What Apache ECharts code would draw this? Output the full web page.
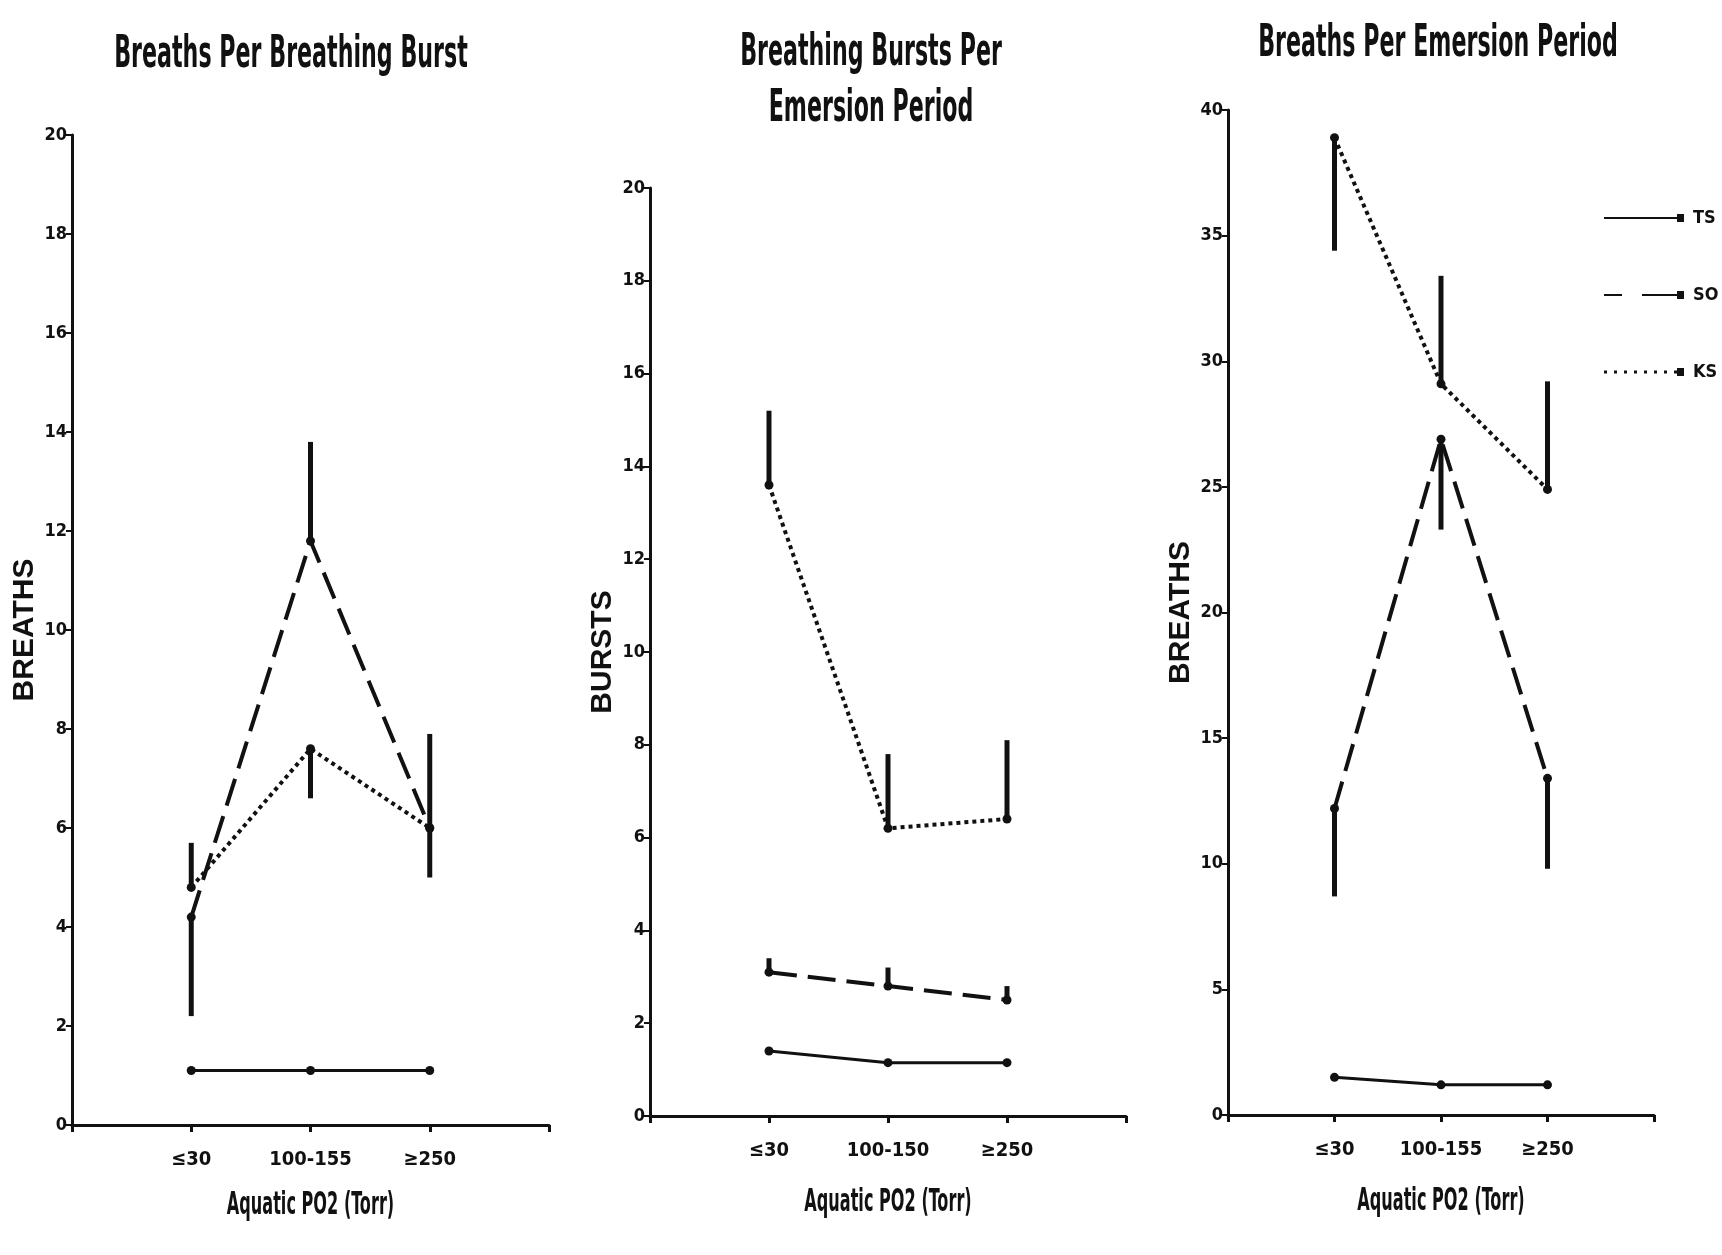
<!DOCTYPE html>
<html>
<head>
<meta charset="utf-8">
<script src="https://cdn.jsdelivr.net/npm/echarts@6/dist/echarts.min.js"></script>
<style>
html,body{margin:0;padding:0;background:#fff;}
#chart{width:1722px;height:1255px;}
</style>
</head>
<body>
<div id="chart"></div>
<script>
// ---- data ----
const CATS_1 = ['≤30', '100-155', '≥250'];
const CATS_2 = ['≤30', '100-150', '≥250'];
const CATS_3 = ['≤30', '100-155', '≥250'];
const SPECIES = ['TS', 'SO', 'KS'];
const TITLES = ['Breaths Per Breathing Burst', 'Breathing Bursts Per', 'Emersion Period', 'Breaths Per Emersion Period'];
const X_NAME = 'Aquatic PO2 (Torr)';
const Y_NAMES = ['BREATHS', 'BURSTS', 'BREATHS'];

// Panel 1: Breaths Per Breathing Burst
const P1_TS = [1.1, 1.1, 1.1];
const P1_SO = [4.2, 11.8, 6.0];
const P1_SO_ERR = [2.2, 13.8, 7.9];
const P1_KS = [4.8, 7.6, 6.0];
const P1_KS_ERR = [5.7, 6.6, 5.0];

// Panel 2: Breathing Bursts Per Emersion Period
const P2_TS = [1.4, 1.15, 1.15];
const P2_SO = [3.1, 2.8, 2.5];
const P2_SO_ERR = [3.4, 3.2, 2.8];
const P2_KS = [13.6, 6.2, 6.4];
const P2_KS_ERR = [15.2, 7.8, 8.1];

// Panel 3: Breaths Per Emersion Period
const P3_TS = [1.5, 1.2, 1.2];
const P3_SO = [12.2, 26.9, 13.4];
const P3_SO_ERR = [8.7, 23.3, 9.8];
const P3_KS = [38.9, 29.1, 24.9];
const P3_KS_ERR = [34.4, 33.4, 29.2];

// ---- styling ----
const INK = '#111';
const NARROW = '"Liberation Sans Narrow", "DejaVu Sans Condensed", "Noto Sans", sans-serif';
const WIDE = '"Liberation Sans", "DejaVu Sans", sans-serif';
const STYLE = {
  TS: {type: 'solid', width: 3},
  SO: {type: [28, 11], width: 4},
  KS: {type: [4, 4], width: 4}
};
const GRIDS = [
  {left: 72, top: 135, width: 477, height: 990},
  {left: 650, top: 188, width: 476, height: 928},
  {left: 1228, top: 110, width: 426, height: 1005}
];

function xAxisFor(gi, cats) {
  return {
    type: 'category', gridIndex: gi, data: [''].concat(cats, ['']), boundaryGap: false,
    axisLine: {lineStyle: {color: INK, width: 3}},
    axisTick: {show: true, length: 7, inside: false, lineStyle: {color: INK, width: 3}},
    axisLabel: {interval: 0, color: INK, fontFamily: NARROW, fontWeight: 'bold', fontSize: 20, margin: 25}
  };
}
function yAxisFor(gi, max, interval, name, gap) {
  return {
    type: 'value', gridIndex: gi, min: 0, max: max, interval: interval,
    axisLine: {show: true, lineStyle: {color: INK, width: 3}},
    axisTick: {show: true, length: 6, lineStyle: {color: INK, width: 2}},
    splitLine: {show: false},
    axisLabel: {color: INK, fontFamily: NARROW, fontWeight: 'bold', fontSize: 18, margin: 5},
    name: name, nameLocation: 'middle', nameGap: gap, nameRotate: 90,
    nameTextStyle: {color: INK, fontFamily: WIDE, fontWeight: 'bold', fontSize: 30}
  };
}
function lineSeries(gi, name, vals) {
  return {
    type: 'line', name: name, xAxisIndex: gi, yAxisIndex: gi,
    data: [null].concat(vals, [null]),
    connectNulls: false,
    symbol: 'circle', symbolSize: 9, showSymbol: true,
    color: INK,
    itemStyle: {color: INK},
    lineStyle: {color: INK, width: STYLE[name].width, type: STYLE[name].type},
    z: 3
  };
}
function errSeries(gi, vals, errs) {
  const data = [];
  vals.forEach((v, i) => { if (errs[i] != null) data.push([i + 1, v, errs[i]]); });
  return {
    type: 'custom', xAxisIndex: gi, yAxisIndex: gi, data: data, z: 4,
    renderItem: function (params, api) {
      const a = api.coord([api.value(0), api.value(1)]);
      const b = api.coord([api.value(0), api.value(2)]);
      return {type: 'line', shape: {x1: a[0], y1: a[1], x2: b[0], y2: b[1]},
              style: {stroke: INK, lineWidth: 5}};
    }
  };
}
// tall narrow lettering, as in the original typeset figure
function narrowText(text, x, y, size) {
  return {
    type: 'text', x: x, y: y, scaleX: 0.56, scaleY: 1, silent: true,
    style: {
      text: text, x: 0, y: 0, fill: INK,
      fontFamily: '"DejaVu Sans Condensed", "DejaVu Sans", sans-serif', fontWeight: 'bold', fontSize: size,
      align: 'center', verticalAlign: 'middle', textAlign: 'center', textVerticalAlign: 'middle'
    }
  };
}

// legend icons (box 80 x 8)
const ICON_TS = 'path://M0,3L73,3L73,5L0,5Z M73,0L80,0L80,8L73,8Z';
const ICON_SO = 'path://M0,3L18,3L18,5L0,5Z M38,3L73,3L73,5L38,5Z M73,0L80,0L80,8L73,8Z';
let dots = '';
for (let x = 0; x < 72; x += 10) dots += 'M' + x + ',2.5L' + (x + 3) + ',2.5L' + (x + 3) + ',5.5L' + x + ',5.5Z ';
const ICON_KS = 'path://' + dots + 'M73,0L80,0L80,8L73,8Z';

const option = {
  backgroundColor: '#ffffff',
  animation: false,
  graphic: [
    narrowText(TITLES[0], 291, 56, 44),
    narrowText(TITLES[1], 871, 54, 44),
    narrowText(TITLES[2], 871, 110, 44),
    narrowText(TITLES[3], 1438, 45, 44),
    narrowText(X_NAME, GRIDS[0].left + GRIDS[0].width / 2, 1206, 32),
    narrowText(X_NAME, GRIDS[1].left + GRIDS[1].width / 2, 1203, 32),
    narrowText(X_NAME, GRIDS[2].left + GRIDS[2].width / 2, 1202, 32)
  ],
  legend: {
    orient: 'vertical', left: 1604, top: 209, padding: 0,
    itemWidth: 80, itemHeight: 8, itemGap: 59,
    selectedMode: false,
    itemStyle: {borderWidth: 0},
    textStyle: {color: INK, fontFamily: NARROW, fontWeight: 'bold', fontSize: 18, padding: [0, 0, 0, 4]},
    data: [
      {name: 'TS', icon: ICON_TS},
      {name: 'SO', icon: ICON_SO},
      {name: 'KS', icon: ICON_KS}
    ]
  },
  grid: GRIDS,
  xAxis: [xAxisFor(0, CATS_1), xAxisFor(1, CATS_2), xAxisFor(2, CATS_3)],
  yAxis: [
    yAxisFor(0, 20, 2, Y_NAMES[0], 32),
    yAxisFor(1, 20, 2, Y_NAMES[1], 32),
    yAxisFor(2, 40, 5, Y_NAMES[2], 32)
  ],
  series: [
    lineSeries(0, 'TS', P1_TS), lineSeries(0, 'SO', P1_SO), lineSeries(0, 'KS', P1_KS),
    errSeries(0, P1_SO, P1_SO_ERR), errSeries(0, P1_KS, P1_KS_ERR),
    lineSeries(1, 'TS', P2_TS), lineSeries(1, 'SO', P2_SO), lineSeries(1, 'KS', P2_KS),
    errSeries(1, P2_SO, P2_SO_ERR), errSeries(1, P2_KS, P2_KS_ERR),
    lineSeries(2, 'TS', P3_TS), lineSeries(2, 'SO', P3_SO), lineSeries(2, 'KS', P3_KS),
    errSeries(2, P3_SO, P3_SO_ERR), errSeries(2, P3_KS, P3_KS_ERR)
  ]
};

const chart = echarts.init(document.getElementById('chart'), null, {renderer: 'canvas'});
chart.setOption(option);
</script>
</body>
</html>
